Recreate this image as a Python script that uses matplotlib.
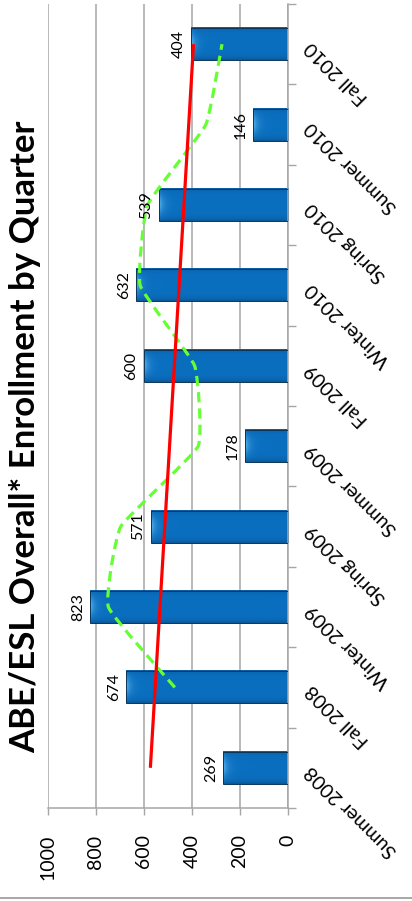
import numpy as np
import matplotlib
matplotlib.use("Agg")
import matplotlib.pyplot as plt
import matplotlib.colors as mcolors
from matplotlib.path import Path
from matplotlib.patches import PathPatch, Rectangle
from matplotlib.lines import Line2D

# Quarterly enrollment
quarters = ["Summer 2008", "Fall 2008", "Winter 2009", "Spring 2009", "Summer 2009",
            "Fall 2009", "Winter 2010", "Spring 2010", "Summer 2010", "Fall 2010"]
enrollment = [269, 674, 823, 571, 178, 600, 632, 539, 146, 404]
value_ticks = [0, 200, 400, 600, 800, 1000]
title = "ABE/ESL Overall* Enrollment by Quarter"

plt.rcParams['font.family'] = ['Lato', 'DejaVu Sans']

W, H, DPI = 412, 901, 100
fig = plt.figure(figsize=(W / DPI, H / DPI), dpi=DPI)
fig.patch.set_facecolor('white')

# plot area in pixels (the chart is laid out sideways: values run right-to-left)
ax_l, ax_r, ax_t, ax_b = 48, 288, 4, 808
ax = fig.add_axes([ax_l / W, 1 - ax_b / H, (ax_r - ax_l) / W, (ax_b - ax_t) / H])

GRID = '#a6a6a6'
px_per_unit = (ax_r - ax_l) / 1000.0
bar_h = 0.4
bar_px = bar_h * (ax_b - ax_t) / 10.0

base = np.array(mcolors.to_rgb('#0a6fc0'))
light = np.array(mcolors.to_rgb('#7dd3ff'))
dark = np.array(mcolors.to_rgb('#0a3f70'))

# bevelled bars: gradient images clipped to each bar
for i, v in enumerate(enrollment):
    length_px = v * px_per_unit
    nx = max(int(length_px * 3), 4)
    ny = 96
    u = np.linspace(0, length_px, nx)
    w = np.linspace(0, 1, ny)
    U, Wv = np.meshgrid(u, w)
    img = np.ones((ny, nx, 3)) * base
    d_edge = np.minimum(Wv, 1 - Wv) * bar_px
    edge = np.exp(-d_edge / 2.5)
    edge = np.where(Wv > 0.5, edge * 1.0, edge * 0.7)
    img = img * (1 - 0.55 * edge[..., None]) + dark * 0.55 * edge[..., None]
    hl = np.exp(-U / 4.0) * np.exp(-((Wv - 0.48) / 0.3) ** 2)
    img = img * (1 - 0.75 * hl[..., None]) + light * 0.75 * hl[..., None]
    ax.imshow(img, extent=(v, 0, i - bar_h / 2, i + bar_h / 2), origin='upper',
              aspect='auto', interpolation='bilinear', zorder=2)
    ax.add_patch(Rectangle((0, i - bar_h / 2), v, bar_h, fill=False,
                           ec='#0b3558', lw=0.7, zorder=3))
    ax.annotate(str(v), xy=(v, i), xytext=(-4, 0), textcoords='offset points',
                rotation=90, ha='right', va='center', fontsize=11.5, color='black',
                zorder=6)

idx = np.arange(len(enrollment))

# linear trend
slope, intercept = np.polyfit(idx, enrollment, 1)
ax.plot(slope * idx + intercept, idx, color='#ff0000', lw=2.3, zorder=5,
        solid_capstyle='butt')

# two-period moving average, drawn as a lightly smoothed curve
ma = np.convolve(enrollment, [0.5, 0.5], mode='valid')
pts = np.column_stack([ma, idx[1:]])
tension = 0.06
verts = [pts[0]]
codes = [Path.MOVETO]
for k in range(len(pts) - 1):
    p0 = pts[k - 1] if k > 0 else pts[k]
    p1, p2 = pts[k], pts[k + 1]
    p3 = pts[k + 2] if k + 2 < len(pts) else pts[k + 1]
    c1 = p1 + (p2 - p0) * tension
    c2 = p2 - (p3 - p1) * tension
    verts += [c1, c2, p2]
    codes += [Path.CURVE4] * 3
ax.add_patch(PathPatch(Path(verts, codes), fill=False, ec='#66ff33', lw=2.3,
                       linestyle=(0, (3.2, 1.9)), zorder=4, capstyle='butt'))

ax.set_xlim(1000, 0)
ax.set_ylim(-0.5, len(quarters) - 0.5)

# value axis
ax.set_xticks(value_ticks)
ax.set_xticklabels([str(t) for t in value_ticks], rotation=90, fontsize=14)
ax.tick_params(axis='x', direction='out', length=5, width=1, color=GRID, pad=14)
ax.grid(axis='x', color=GRID, lw=1.1, zorder=0)
ax.set_axisbelow(True)

# category axis on the right
ax.yaxis.tick_right()
ax.set_yticks(np.arange(-0.5, len(quarters), 1.0))
ax.set_yticklabels([])
ax.tick_params(axis='y', direction='out', length=6, width=1, color=GRID)
for i, q in enumerate(quarters):
    ax.annotate(q, xy=(1, i), xycoords=('axes fraction', 'data'), xytext=(15, 0),
                textcoords='offset points', rotation=135, rotation_mode='anchor',
                ha='right', va='center', fontsize=14, color='black')

for s in ['top', 'left']:
    ax.spines[s].set_visible(False)
for s in ['right', 'bottom']:
    ax.spines[s].set_color(GRID)
    ax.spines[s].set_linewidth(1.1)

fig.text(25 / W, 1 - 437 / H, title, rotation=90, fontsize=25, fontweight='bold',
         ha='center', va='center')

fig.add_artist(Line2D([0, 1], [1 - 898 / H, 1 - 898 / H], transform=fig.transFigure,
                      color='#a0a0a0', lw=1.3))

fig.savefig('out.png', dpi=DPI)
